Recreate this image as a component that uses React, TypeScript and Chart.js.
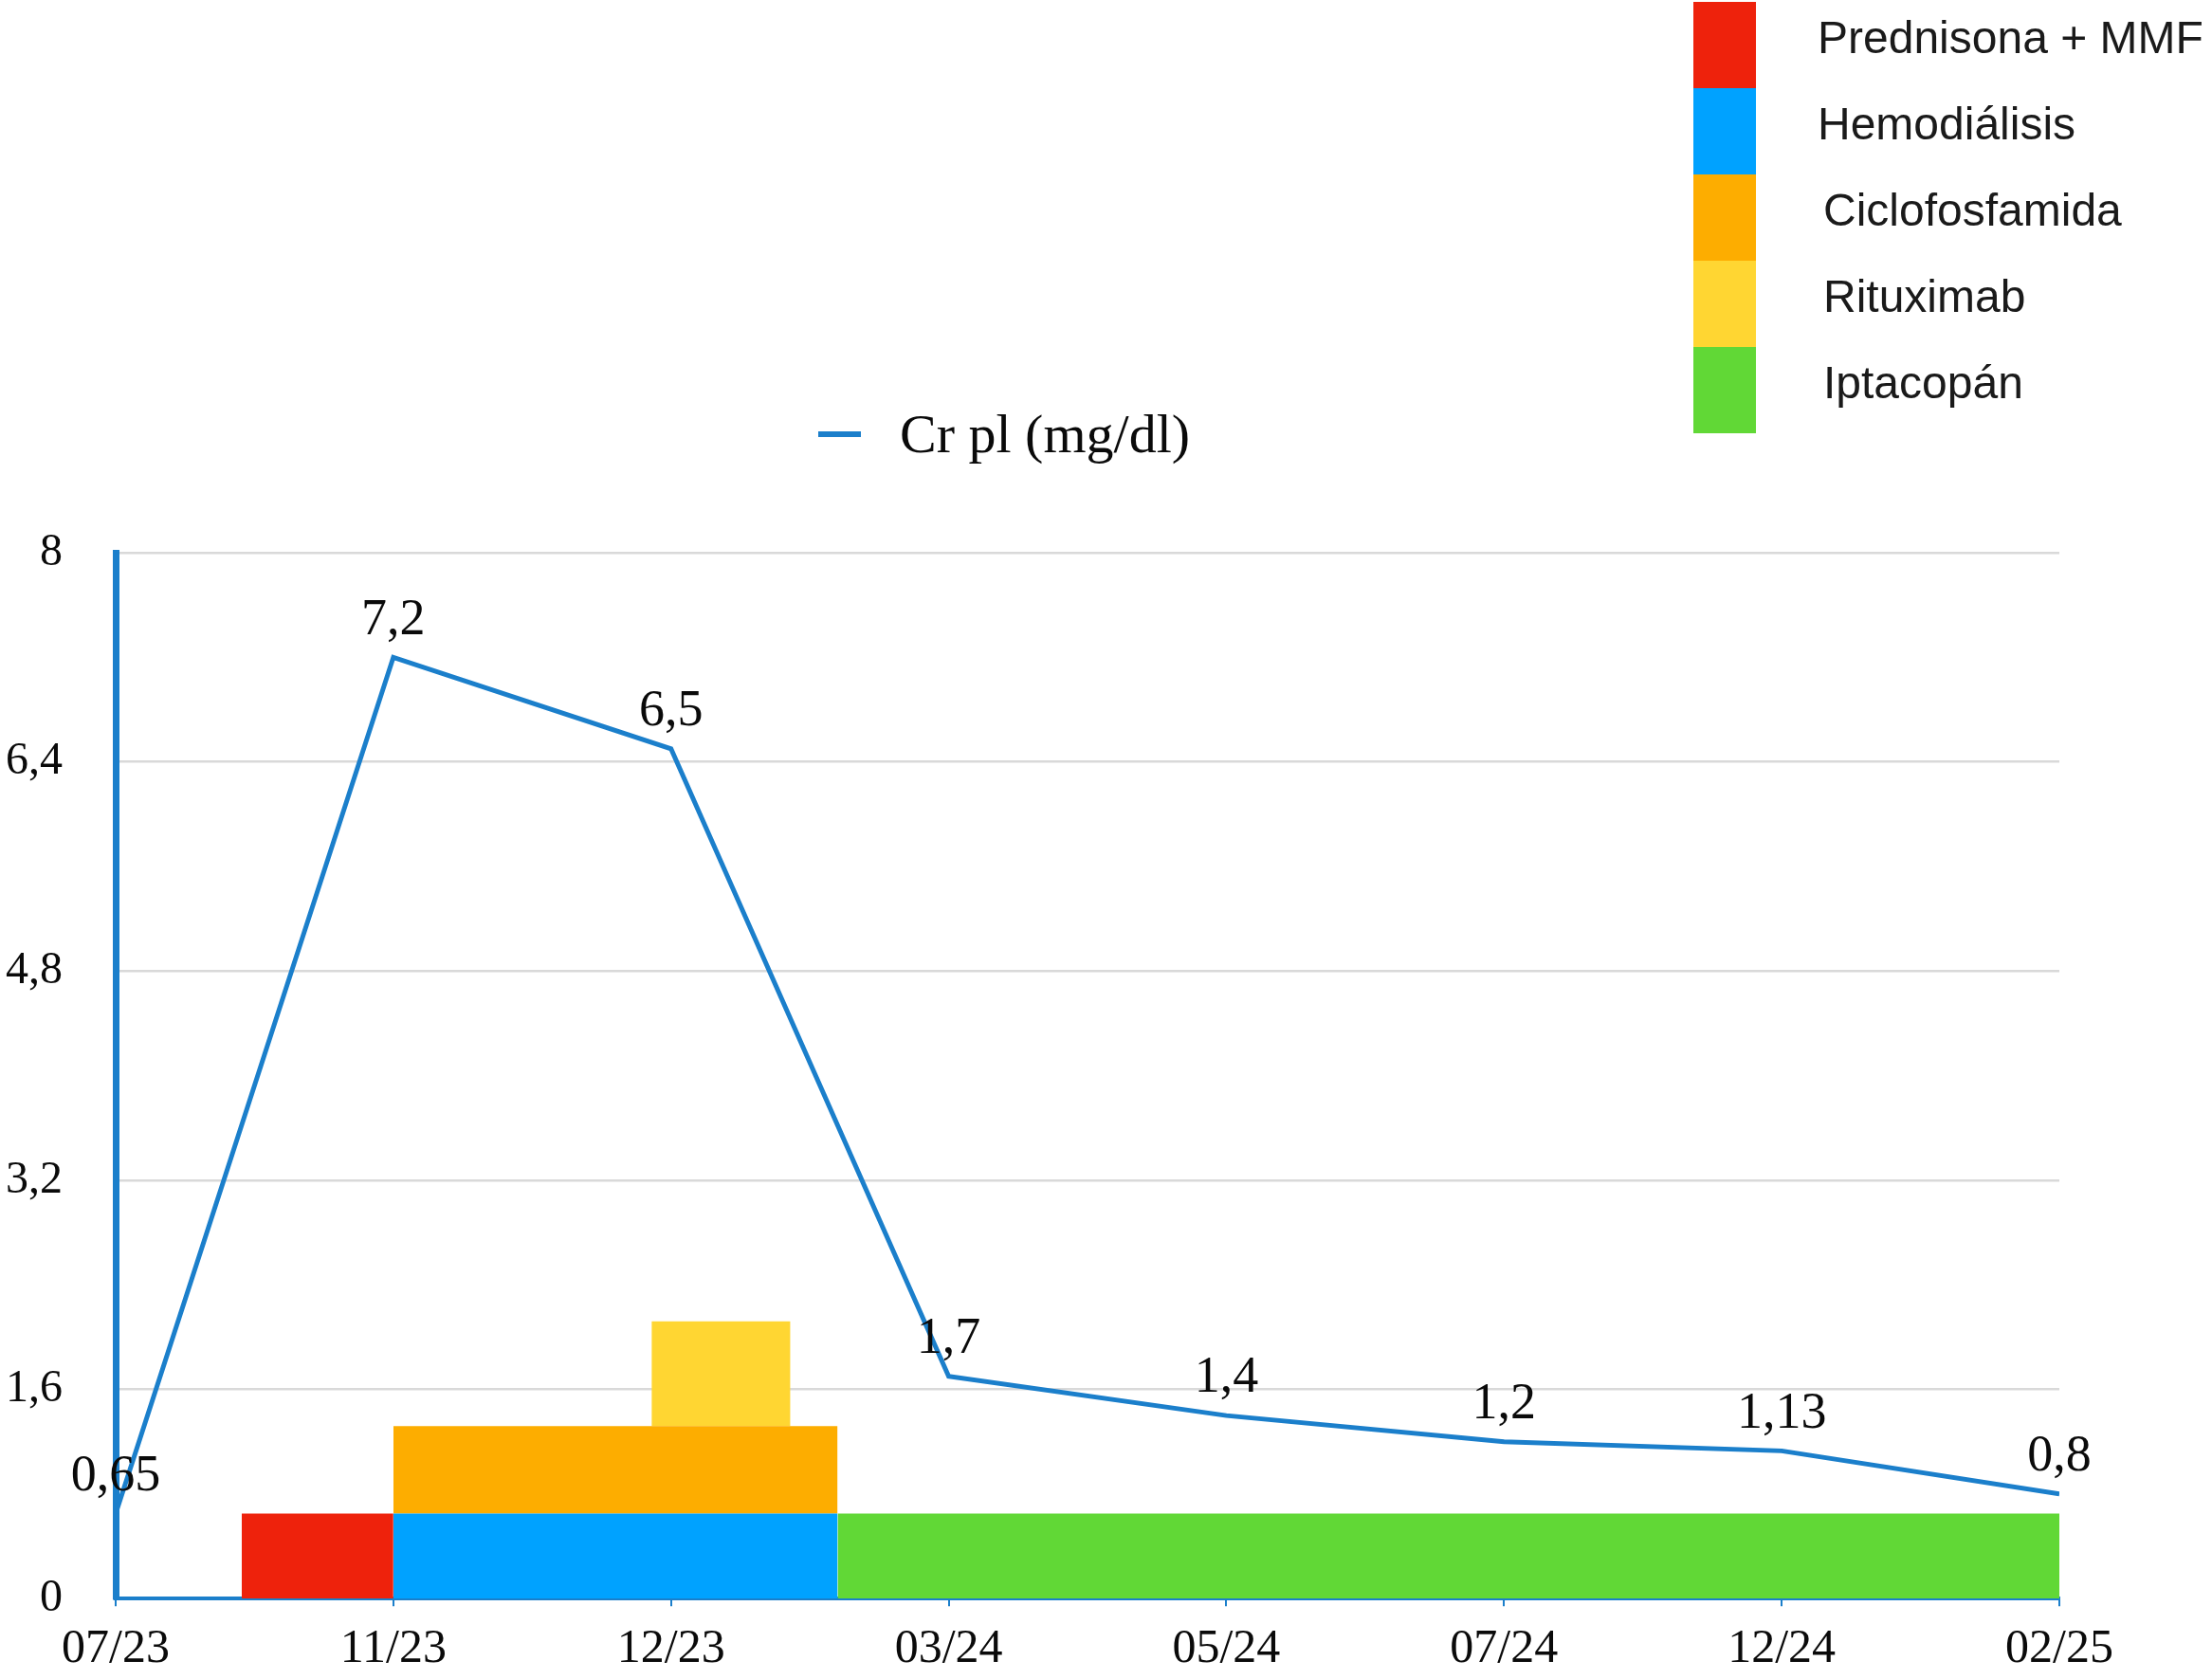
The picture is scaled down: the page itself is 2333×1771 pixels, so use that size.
import React, { useEffect, useRef } from "react";
import { Chart, registerables } from "chart.js";

Chart.register(...registerables);

const categories = ["07/23", "11/23", "12/23", "03/24", "05/24", "07/24", "12/24", "02/25"];
const crValues = [0.65, 7.2, 6.5, 1.7, 1.4, 1.2, 1.13, 0.8];
const crLabels = ["0,65", "7,2", "6,5", "1,7", "1,4", "1,2", "1,13", "0,8"];
const yTickValues = [0, 1.6, 3.2, 4.8, 6.4, 8];
const yTickLabels = ["0", "1,6", "3,2", "4,8", "6,4", "8"];

const treatmentNames = ["Prednisona + MMF", "Hemodiálisis", "Ciclofosfamida", "Rituximab", "Iptacopán"];
const treatmentColors = ["#EE220C", "#00A2FF", "#FDAD00", "#FFD632", "#61D836"];
const treatmentStart = [0.454, 1.0, 1.0, 1.93, 2.6];
const treatmentEnd = [1.0, 2.6, 2.6, 2.43, 7.0];
const treatmentBase = [0, 0, 0.65, 1.32, 0];
const treatmentTop = [0.65, 0.65, 1.32, 2.12, 0.65];

const LINE_BLUE = "#1B7FCB";
const SERIF = "'Liberation Serif', 'Times New Roman', serif";
const SANS = "'Liberation Sans', Arial, Helvetica, sans-serif";

const valueLabelPlugin = {
  id: "valueLabels",
  afterDatasetsDraw(chart: any) {
    const meta = chart.getDatasetMeta(0);
    const ctx = chart.ctx;
    ctx.save();
    ctx.font = `54px ${SERIF}`;
    ctx.fillStyle = "#0a0a0a";
    ctx.textAlign = "center";
    ctx.textBaseline = "middle";
    meta.data.forEach((el: any, i: number) => {
      ctx.fillText(crLabels[i], el.x, el.y - 39);
    });
    ctx.restore();
  },
};

export default function App() {
  const canvasRef = useRef<HTMLCanvasElement | null>(null);

  useEffect(() => {
    if (!canvasRef.current) return;
    const blockSets = treatmentNames.map((name, i) => ({
      type: "line" as const,
      label: name,
      data: [
        { x: treatmentStart[i], y: treatmentTop[i] },
        { x: treatmentEnd[i], y: treatmentTop[i] },
      ],
      borderWidth: 0,
      borderColor: "rgba(0,0,0,0)",
      backgroundColor: treatmentColors[i],
      pointRadius: 0,
      fill: { value: treatmentBase[i] },
      tension: 0,
      order: 2,
    }));

    const chart = new Chart(canvasRef.current, {
      type: "line",
      data: {
        datasets: [
          {
            label: "Cr pl (mg/dl)",
            data: crValues.map((v, i) => ({ x: i, y: v })),
            borderColor: LINE_BLUE,
            borderWidth: 5,
            pointRadius: 0,
            tension: 0,
            fill: false,
            order: 1,
          } as any,
          ...blockSets,
        ],
      },
      options: {
        animation: false,
        responsive: true,
        maintainAspectRatio: false,
        layout: { padding: { left: 0, top: 583, right: 161, bottom: 0 } },
        plugins: {
          legend: { display: false },
          tooltip: { enabled: false },
        },
        scales: {
          x: {
            type: "linear",
            min: 0,
            max: 7,
            afterBuildTicks: (scale: any) => {
              scale.ticks = categories.map((_, i) => ({ value: i }));
            },
            afterFit: (scale: any) => {
              scale.height = 80;
            },
            ticks: {
              callback: (v: any) => categories[Math.round(Number(v))],
              font: { family: SERIF, size: 50 },
              color: "#0a0a0a",
              padding: 16,
              maxRotation: 0,
              autoSkip: false,
            },
            grid: {
              drawOnChartArea: false,
              drawTicks: true,
              tickLength: 8,
              color: LINE_BLUE,
              lineWidth: 2,
            },
            border: { display: true, color: LINE_BLUE, width: 4 },
          },
          y: {
            type: "linear",
            min: 0,
            max: 8,
            afterBuildTicks: (scale: any) => {
              scale.ticks = yTickValues.map((v) => ({ value: v }));
            },
            afterFit: (scale: any) => {
              scale.width = 122;
            },
            ticks: {
              callback: (v: any) => {
                const idx = yTickValues.findIndex((t) => Math.abs(t - Number(v)) < 1e-6);
                return idx >= 0 ? yTickLabels[idx] : "";
              },
              font: { family: SERIF, size: 48 },
              color: "#0a0a0a",
              padding: 56,
            },
            grid: {
              drawTicks: false,
              color: (c: any) => (c.tick && c.tick.value === 0 ? "rgba(0,0,0,0)" : "#D9D9D9"),
              lineWidth: 2.5,
            },
            border: { display: true, color: LINE_BLUE, width: 7 },
          },
        },
      } as any,
      plugins: [valueLabelPlugin],
    });
    return () => chart.destroy();
  }, []);

  return (
    <div style={{ position: "absolute", left: 0, top: 0, width: 2333, height: 1771, background: "#fff", overflow: "hidden" }}>
      <div style={{ position: "absolute", left: 0, top: 0, width: 2333, height: 1771 }}>
        <canvas ref={canvasRef} />
      </div>
      {/* Line legend */}
      <div style={{ position: "absolute", left: 863, top: 455, width: 45, height: 6, background: LINE_BLUE }} />
      <div
        style={{
          position: "absolute",
          left: 949,
          top: 458,
          transform: "translateY(-50%)",
          fontFamily: SERIF,
          fontSize: 58,
          color: "#0a0a0a",
          whiteSpace: "nowrap",
          lineHeight: 1,
        }}
      >
        Cr pl (mg/dl)
      </div>
      {/* Treatment legend */}
      {treatmentNames.map((name, i) => (
        <React.Fragment key={name}>
          <div
            style={{
              position: "absolute",
              left: 1786,
              top: 2 + i * 91,
              width: 66,
              height: 91,
              background: treatmentColors[i],
            }}
          />
          <div
            style={{
              position: "absolute",
              left: i < 2 ? 1917 : 1923,
              top: 2 + i * 91 + 45 - 7,
              transform: "translateY(-50%)",
              fontFamily: SANS,
              fontSize: 48,
              color: "#1a1a1a",
              whiteSpace: "nowrap",
              lineHeight: 1,
            }}
          >
            {name}
          </div>
        </React.Fragment>
      ))}
    </div>
  );
}
